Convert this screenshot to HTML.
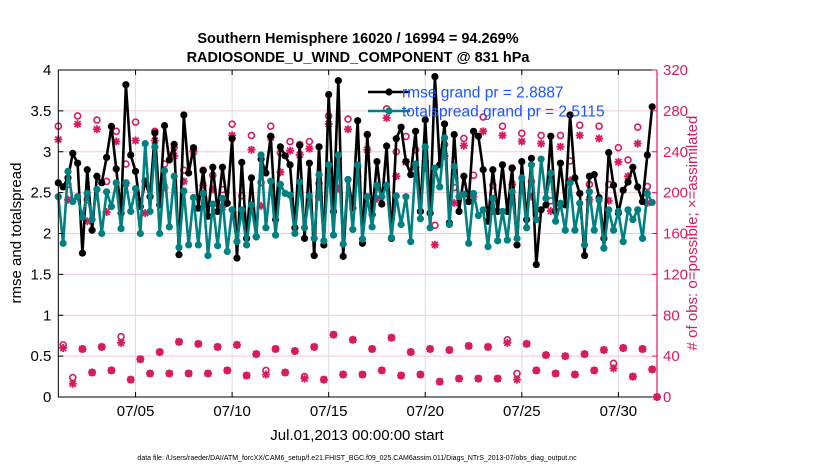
<!DOCTYPE html>
<html><head><meta charset="utf-8">
<style>
html,body{margin:0;padding:0;background:#fff;}
svg{display:block;font-family:"Liberation Sans",sans-serif;}
</style></head>
<body>
<svg id="chart" width="830" height="470" viewBox="0 0 830 470" xmlns="http://www.w3.org/2000/svg">
<rect width="830" height="470" fill="#fff"/>
<g id="grid"></g>
<g id="counts"></g>
<g id="lines"></g>
<g id="axes"></g>
<text x="358" y="43" text-anchor="middle" font-size="14.5" font-weight="bold">Southern Hemisphere 16020 / 16994 = 94.269%</text>
<text x="358" y="62" text-anchor="middle" font-size="14.5" font-weight="bold">RADIOSONDE_U_WIND_COMPONENT @ 831 hPa</text>
<text x="357" y="440" text-anchor="middle" font-size="15">Jul.01,2013 00:00:00 start</text>
<text transform="translate(21,233) rotate(-90)" text-anchor="middle" font-size="15">rmse and totalspread</text>
<text transform="translate(697,233) rotate(-90)" text-anchor="middle" font-size="15" fill="#d81b60"># of obs: o=possible; ×=assimilated</text>
<text x="357" y="460" text-anchor="middle" font-size="7">data file: /Users/raeder/DAI/ATM_forcXX/CAM6_setup/f.e21.FHIST_BGC.f09_025.CAM6assim.011/Diags_NTrS_2013-07/obs_diag_output.nc</text>
<g id="legend">
  <line x1="368" y1="92" x2="410" y2="92" stroke="#000" stroke-width="2.5"/>
  <circle cx="389" cy="92" r="3.6" fill="#000"/>
  <text x="402" y="97.5" font-size="15.5" fill="#1a56ff">rmse grand pr = 2.8887</text>
  <line x1="368" y1="111" x2="410" y2="111" stroke="#008080" stroke-width="2.5"/>
  <circle cx="389" cy="111" r="3.6" fill="#008080"/>
  <text x="402" y="116.5" font-size="15.5" fill="#1a56ff">totalspread grand pr = 2.5115</text>
</g>
</svg>
<script>
var rmse = [2.62,2.57,2.68,2.98,2.86,1.76,2.78,2.04,2.70,2.62,2.93,3.31,2.79,2.25,3.82,2.96,2.76,2.33,2.64,2.45,
3.23,2.35,3.32,2.90,3.09,1.74,3.45,2.74,3.05,2.31,2.77,2.21,2.81,2.27,2.81,2.37,3.16,1.70,2.87,1.94,2.68,1.96,
2.91,2.74,3.19,2.17,3.06,2.95,2.84,2.07,3.08,1.94,2.86,1.73,3.06,1.86,3.70,2.27,3.87,1.72,2.66,2.31,
3.38,1.88,3.21,2.23,2.88,2.36,3.07,1.94,3.16,3.30,2.88,2.72,3.25,2.27,3.39,2.25,3.92,2.84,3.34,2.13,3.21,
2.27,2.70,2.39,3.25,3.19,2.78,2.15,2.78,2.27,2.84,2.27,2.80,1.86,2.88,2.17,2.92,1.62,2.29,2.35,3.19,
2.27,2.86,2.35,3.45,2.68,2.49,1.73,2.70,2.72,2.44,1.94,2.99,2.59,2.25,2.53,2.63,2.81,2.57,2.39,2.96,3.55];
var spread = [2.45,1.88,2.76,2.39,2.45,2.20,2.49,2.17,2.54,2.00,2.51,2.33,2.62,2.06,2.62,2.27,2.55,2.00,3.10,2.27,
3.06,2.00,2.77,2.08,2.70,1.83,2.52,1.86,2.44,1.86,2.49,1.73,2.36,1.85,2.43,1.78,2.29,1.90,2.29,1.86,2.35,1.96,
2.96,2.07,2.64,1.98,2.60,2.49,2.47,2.00,2.63,2.07,2.46,1.94,2.72,1.91,2.84,1.98,2.96,1.87,2.66,2.05,
2.84,1.93,2.45,2.08,2.59,2.45,2.59,1.95,2.46,2.11,2.45,1.90,2.85,2.18,3.06,2.07,2.80,2.57,3.17,2.11,2.82,
2.45,2.48,1.88,2.49,2.22,2.29,1.84,2.43,1.91,2.27,1.92,2.51,1.94,2.68,2.07,2.84,2.17,2.91,2.43,2.74,
2.15,2.37,2.04,2.62,2.04,2.37,1.86,2.51,2.04,2.41,1.82,2.29,2.04,2.27,1.90,2.29,2.17,2.29,1.94,2.49,2.38];
var assimMain = [252,193,267,172,262,181,250,209,251,180,251,205,236,211,240,207,203,186,256,181,242,187,254,220,241,237,243,196,267,204,262,216,242,194,273,216,230,225,224,149,236,190,246,196,260,182,256,208,250,196,248,182,245,212,256,193,253,192,230,216,248,190,0];
var possMain = [265,208,275,193,271,211,260,228,269,211,260,228,244,222,242,222,217,203,267,197,256,210,265,239,250,247,250,209,275,234,272,226,257,206,282,240,255,242,230,168,247,205,253,217,274,207,265,224,258,211,256,192,256,231,266,208,265,208,244,232,264,206,0];
var assimOff = [48,13,47,24,49,26,53,17,37,23,44,23,54,23,52,23,49,26,51,21,42,22,47,24,45,18,49,17,61,22,56,22,47,26,58,21,44,22,47,15,46,18,50,18,49,18,53,17,52,26,41,23,40,22,42,26,46,28,48,20,47,27];
var possOff = [51,19,47,24,49,26,59,17,37,23,44,23,54,23,52,23,49,26,51,21,42,26,47,24,45,20,49,17,61,22,56,22,47,26,58,21,44,22,47,15,46,18,50,18,49,18,56,23,52,26,41,23,40,22,42,26,46,33,48,20,47,27];
var leftTicks = [0,0.5,1,1.5,2,2.5,3,3.5,4];
var leftTickLabels = ["0","0.5","1","1.5","2","2.5","3","3.5","4"];
var rightTicks = [0,40,80,120,160,200,240,280,320];
var dateTicks = [5,10,15,20,25,30];
var dateTickLabels = ["07/05","07/10","07/15","07/20","07/25","07/30"];

var NS = "http://www.w3.org/2000/svg";
var L=58.3, R=657, T=70, B=397;
function xs(day){ return L + (day-1)*(R-L)/31; }     // day-of-July (1 = Jul 1 00Z)
function xi(i){ return xs(1 + i*0.25); }
function yl(v){ return B - v*(B-T)/4; }
function yr(c){ return B - c*(B-T)/320; }
function mk(tag, attrs, parent){ var e=document.createElementNS(NS,tag); for(var k in attrs) e.setAttribute(k,attrs[k]); parent.appendChild(e); return e; }
var gGrid=document.getElementById('grid'), gC=document.getElementById('counts'), gL=document.getElementById('lines'), gA=document.getElementById('axes');
var CR="#d81b60";

// grid
for (var j=1;j<rightTicks.length-1;j++){
  var ln=mk('line',{x1:L,x2:R,y1:yr(rightTicks[j]),y2:yr(rightTicks[j]),stroke:"#f3c6d6","stroke-width":1},gGrid);
  
  
}
for (var j=0;j<dateTicks.length;j++){
  var ln=mk('line',{x1:xs(dateTicks[j]),x2:xs(dateTicks[j]),y1:T,y2:B,stroke:"#dcdcdc","stroke-width":1},gGrid);
  
  
}

// counts
var possible=[], assim=[];
for (var i=0;i<125;i++){
  if(i%2===0){ possible.push(possMain[i/2]); assim.push(assimMain[i/2]); }
  else { possible.push(possOff[(i-1)/2]); assim.push(assimOff[(i-1)/2]); }
}
for (var i=0;i<125;i++){
  var x=xi(i);
  var c=mk('circle',{cx:x,cy:yr(possible[i]),r:3,fill:"none",stroke:CR,"stroke-width":1.6},gC);
  
  
  var y=yr(assim[i]);
  var p=mk('path',{d:"M"+(x-4)+" "+y+"H"+(x+4)+"M"+x+" "+(y-4)+"V"+(y+4)+"M"+(x-3)+" "+(y-3)+"L"+(x+3)+" "+(y+3)+"M"+(x-3)+" "+(y+3)+"L"+(x+3)+" "+(y-3),stroke:CR,"stroke-width":1.8,fill:"none"},gC);
  
  
}

// series lines
function series(vals,color,name){
  var d="";
  for(var i=0;i<vals.length;i++){ d+=(i?"L":"M")+xi(i).toFixed(2)+" "+yl(vals[i]).toFixed(2); }
  var pl=mk('path',{d:d,fill:"none",stroke:color,"stroke-width":2.6,"stroke-linejoin":"round"},gL);
  
  
  for(var i=0;i<vals.length;i++){
    var c=mk('circle',{cx:xi(i),cy:yl(vals[i]),r:3.6,fill:color},gL);
    
    
  }
}
series(rmse,"#000000","rmse");
series(spread,"#008080","totalspread");

// axes
var a1=mk('path',{d:"M"+R+" "+T+"H"+L+"V"+B+"H"+R,fill:"none",stroke:"#000","stroke-width":1},gA);


var a2=mk('line',{x1:R,x2:R,y1:T,y2:B,stroke:CR,"stroke-width":1.2},gA);


for (var j=0;j<leftTicks.length;j++){
  var y=yl(leftTicks[j]);
  mk('line',{x1:L,x2:L+5,y1:y,y2:y,stroke:"#000"},gA);
  var t=mk('text',{x:L-7,y:y+5,"text-anchor":"end","font-size":15},gA);
  t.textContent=leftTickLabels[j];
  
  
}
for (var j=0;j<rightTicks.length;j++){
  var y=yr(rightTicks[j]);
  mk('line',{x1:R-5,x2:R,y1:y,y2:y,stroke:CR},gA);
  var t=mk('text',{x:R+6,y:y+5,"font-size":15,fill:CR},gA);
  t.textContent=String(rightTicks[j]);
  
  
}
for (var j=0;j<dateTicks.length;j++){
  var x=xs(dateTicks[j]);
  mk('line',{x1:x,x2:x,y1:B,y2:B-5,stroke:"#000"},gA);
  mk('line',{x1:x,x2:x,y1:T,y2:T+5,stroke:"#000"},gA);
  var t=mk('text',{x:x,y:B+19,"text-anchor":"middle","font-size":15},gA);
  t.textContent=dateTickLabels[j];
  
  
}
</script>
</body></html>
